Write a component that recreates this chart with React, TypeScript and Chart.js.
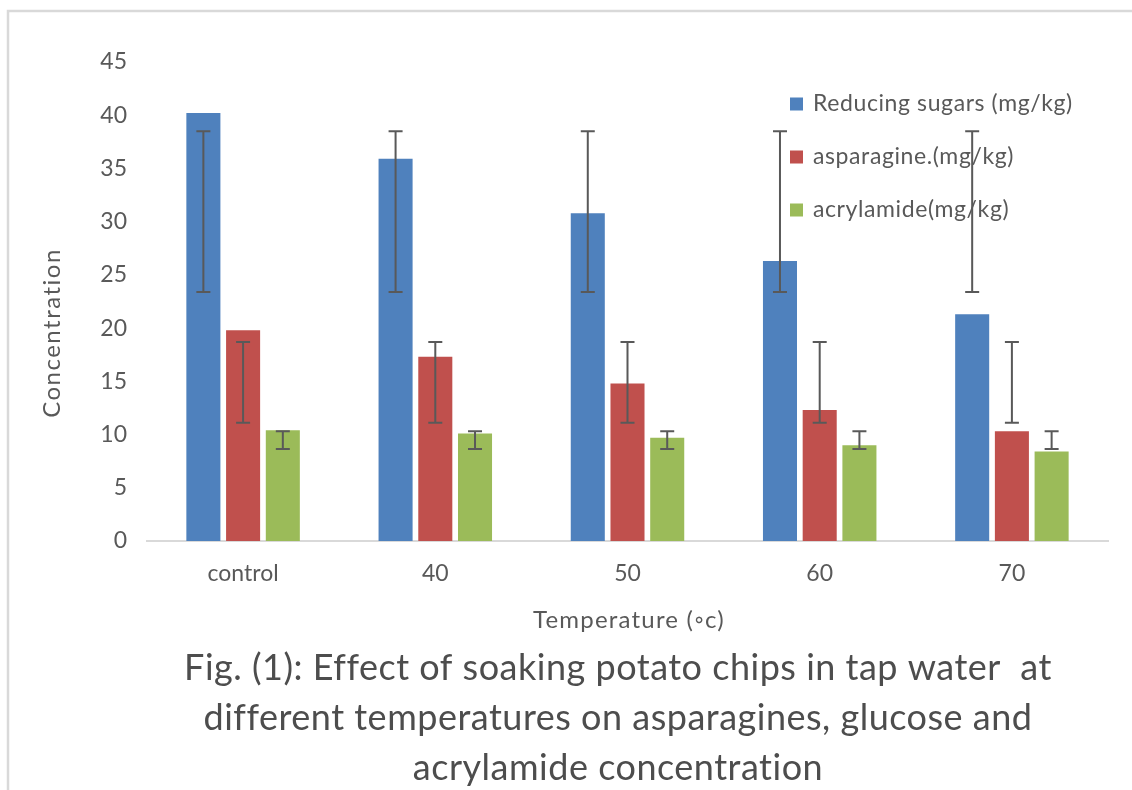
import React, { useEffect, useRef } from 'react';
import { Chart, registerables } from 'chart.js';

Chart.register(...registerables);

const categories = ['control', '40', '50', '60', '70'];
const seriesLabels = ['Reducing sugars (mg/kg)', 'asparagine.(mg/kg)', 'acrylamide(mg/kg)'];
const seriesColors = ['#4F81BD', '#C0504D', '#9BBB59'];

const reducingSugars = [40.2, 35.9, 30.8, 26.3, 21.3];
const asparagine = [19.8, 17.3, 14.8, 12.3, 10.3];
const acrylamide = [10.4, 10.1, 9.7, 9.0, 8.4];

const sugarsErrLow = [23.4, 23.4, 23.4, 23.4, 23.4];
const sugarsErrHigh = [38.5, 38.5, 38.5, 38.5, 38.5];
const asparagineErrLow = [11.1, 11.1, 11.1, 11.1, 11.1];
const asparagineErrHigh = [18.7, 18.7, 18.7, 18.7, 18.7];
const acrylamideErrLow = [8.65, 8.65, 8.65, 8.65, 8.65];
const acrylamideErrHigh = [10.3, 10.3, 10.3, 10.3, 10.3];

const yMin = 0;
const yMax = 45;
const yStep = 5;

const xTitle = 'Temperature (◦c)';
const yTitle = 'Concentration';
const captionLines = [
  'Fig. (1): Effect of soaking potato chips in tap water  at',
  'different temperatures on asparagines, glucose and',
  'acrylamide concentration',
];

const errLows = [sugarsErrLow, asparagineErrLow, acrylamideErrLow];
const errHighs = [sugarsErrHigh, asparagineErrHigh, acrylamideErrHigh];

const FONT = 'Lato';
const TEXT_COLOR = '#595959';

const framePlugin = {
  id: 'frame',
  beforeDraw(chart: any) {
    const ctx = chart.ctx;
    ctx.save();
    ctx.fillStyle = '#ffffff';
    ctx.fillRect(0, 0, chart.width, chart.height);
    ctx.strokeStyle = '#d9d9d9';
    ctx.lineWidth = 2.5;
    ctx.beginPath();
    ctx.moveTo(8, chart.height);
    ctx.lineTo(8, 11);
    ctx.lineTo(chart.width, 11);
    ctx.stroke();
    ctx.restore();
  },
};

const errorBarPlugin = {
  id: 'errorBars',
  afterDatasetsDraw(chart: any) {
    const ctx = chart.ctx;
    const yScale = chart.scales.y;
    ctx.save();
    ctx.strokeStyle = '#595959';
    ctx.lineWidth = 2;
    chart.data.datasets.forEach((_ds: any, d: number) => {
      const meta = chart.getDatasetMeta(d);
      meta.data.forEach((el: any, j: number) => {
        const x = el.x;
        const yl = yScale.getPixelForValue(errLows[d][j]);
        const yh = yScale.getPixelForValue(errHighs[d][j]);
        const cap = 7;
        ctx.beginPath();
        ctx.moveTo(x, yl);
        ctx.lineTo(x, yh);
        ctx.moveTo(x - cap, yl);
        ctx.lineTo(x + cap, yl);
        ctx.moveTo(x - cap, yh);
        ctx.lineTo(x + cap, yh);
        ctx.stroke();
      });
    });
    ctx.restore();
  },
};

const textPlugin = {
  id: 'texts',
  afterDraw(chart: any) {
    const ctx = chart.ctx;
    ctx.save();
    // legend
    const rows = [104, 157, 210];
    chart.data.datasets.forEach((ds: any, i: number) => {
      ctx.fillStyle = ds.backgroundColor;
      ctx.fillRect(790, rows[i] - 6.5, 13, 13);
      ctx.fillStyle = TEXT_COLOR;
      ctx.font = `23px ${FONT}`;
      (ctx as any).letterSpacing = '0.6px';
      ctx.textAlign = 'left';
      ctx.textBaseline = 'alphabetic';
      ctx.fillText(ds.label, 813, rows[i] + 7);
    });
    // y title
    ctx.fillStyle = TEXT_COLOR;
    ctx.font = `24px ${FONT}`;
    (ctx as any).letterSpacing = '1.5px';
    ctx.save();
    ctx.translate(60, 333);
    ctx.rotate(-Math.PI / 2);
    ctx.textAlign = 'center';
    ctx.textBaseline = 'alphabetic';
    ctx.fillText(yTitle, 0, 0);
    ctx.restore();
    // x title
    (ctx as any).letterSpacing = '1.2px';
    ctx.textAlign = 'center';
    ctx.textBaseline = 'alphabetic';
    ctx.fillText(xTitle, 629, 628);
    // caption
    (ctx as any).letterSpacing = '0.5px';
    ctx.fillStyle = '#4d4d4d';
    ctx.font = `36px ${FONT}`;
    const base = [680, 730, 780];
    captionLines.forEach((line, i) => {
      ctx.fillText(line, 618, base[i]);
    });
    ctx.restore();
  },
};

export default function App() {
  const ref = useRef<HTMLCanvasElement>(null);
  useEffect(() => {
    if (!ref.current) return;
    const values = [reducingSugars, asparagine, acrylamide];
    const chart = new Chart(ref.current, {
      type: 'bar',
      data: {
        labels: categories,
        datasets: values.map((v, i) => ({
          label: seriesLabels[i],
          data: v,
          backgroundColor: seriesColors[i],
          borderWidth: 0,
          categoryPercentage: 0.62,
          barPercentage: 0.857,
        })),
      },
      options: {
        animation: false,
        responsive: false,
        layout: { padding: { top: 62, right: 24, bottom: 0, left: 0 } },
        plugins: {
          legend: { display: false },
          title: { display: false },
          tooltip: { enabled: false },
        },
        scales: {
          x: {
            grid: { display: false, drawTicks: false },
            border: { display: true, color: '#d9d9d9', width: 2 },
            ticks: { color: TEXT_COLOR, font: { family: FONT, size: 23 }, padding: 19 },
            afterFit: (s: any) => { s.height = 249; },
          },
          y: {
            min: yMin,
            max: yMax,
            grid: { display: false, drawTicks: false },
            border: { display: false },
            ticks: { stepSize: yStep, color: TEXT_COLOR, font: { family: FONT, size: 23 }, padding: 20 },
            afterFit: (s: any) => { s.width = 147; },
          },
        },
      },
      plugins: [framePlugin, errorBarPlugin, textPlugin],
    });
    return () => chart.destroy();
  }, []);
  return (
    <div style={{ position: 'absolute', left: 0, top: 0, width: 1132, height: 790 }}>
      <canvas ref={ref} width={1132} height={790} style={{ display: 'block' }} />
    </div>
  );
}
